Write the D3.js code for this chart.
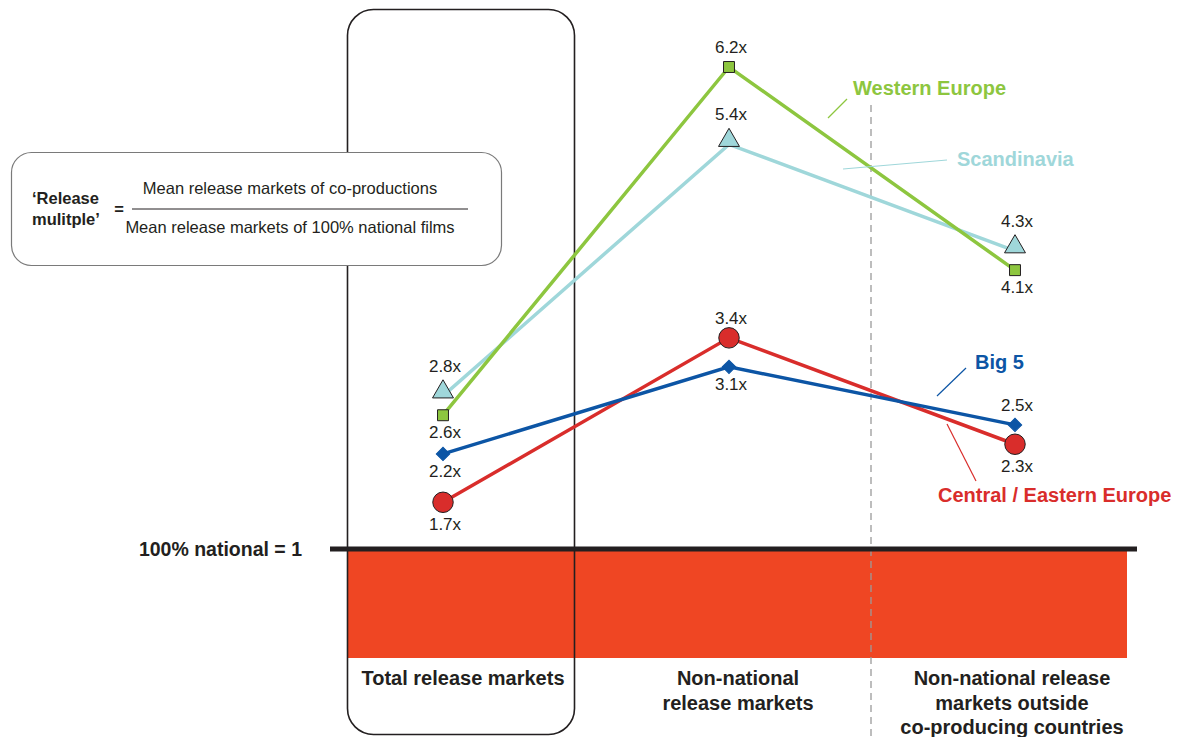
<!DOCTYPE html>
<html>
<head>
<meta charset="utf-8">
<script src="https://cdn.jsdelivr.net/npm/d3@7"></script>
<style>
  body { margin: 0; background: #fff; }
  text { font-family: "Liberation Sans", Arial, sans-serif; fill: #231f20; }
</style>
</head>
<body>
<div id="vis"></div>
<script>
var w = 1178;
var h = 737;

// categories along the x axis
var categories = ['total', 'nonNational', 'outside'];
var categoryLabels = [
  ['Total release markets'],
  ['Non-national', 'release markets'],
  ['Non-national release', 'markets outside', 'co-producing countries']
];

// release multiples per region
var westernEurope = [2.6, 6.2, 4.1];
var scandinavia   = [2.8, 5.4, 4.3];
var big5          = [2.2, 3.1, 2.5];
var centralEast   = [1.7, 3.4, 2.3];

var seriesNames = ['Western Europe', 'Scandinavia', 'Big 5', 'Central / Eastern Europe'];

var svg = d3.select('#vis')
  .append('svg')
    .attr('width', w)
    .attr('height', h);

var x = d3.scalePoint()
  .domain(categories)
  .range([443, 1015]);

var y = d3.scaleLinear()
  .domain([1, 6.2])
  .range([570, 67]);

var series = [
  { name: seriesNames[0], values: westernEurope, color: '#8dc63f', marker: 'square',
    sides: ['below', 'above', 'below'],
    label: { x: 853, y: 95 }, leader: [[828, 118], [847, 99]] },
  { name: seriesNames[1], values: scandinavia, color: '#9fd7da', marker: 'triangle',
    sides: ['above', 'above', 'above'],
    label: { x: 957, y: 166 }, leader: [[843, 169], [947, 160]] },
  { name: seriesNames[2], values: big5, color: '#0c55a5', marker: 'diamond',
    sides: ['below', 'below', 'above'],
    label: { x: 975, y: 369 }, leader: [[937, 396], [966, 368]] },
  { name: seriesNames[3], values: centralEast, color: '#d92d2b', marker: 'circle',
    sides: ['below', 'above', 'below'],
    label: { x: 938, y: 502 }, leader: [[947, 424], [976, 481]] }
];

// red band under the baseline
svg.append('rect')
  .attr('x', 347)
  .attr('y', 551)
  .attr('width', 780)
  .attr('height', 107)
  .style('fill', '#ef4623');

// dashed divider
svg.append('line')
  .attr('x1', 871).attr('x2', 871)
  .attr('y1', 105).attr('y2', 737)
  .style('stroke', '#9a9a9a')
  .style('stroke-width', 1.3)
  .style('stroke-dasharray', '7,5');

// tall rounded box round the first category
svg.append('rect')
  .attr('x', 347.5)
  .attr('y', 9.5)
  .attr('width', 227)
  .attr('height', 725)
  .attr('rx', 26)
  .style('fill', 'none')
  .style('stroke', '#231f20')
  .style('stroke-width', 1.6);

// baseline
svg.append('line')
  .attr('x1', 330).attr('x2', 1137)
  .attr('y1', 549).attr('y2', 549)
  .style('stroke', '#231f20')
  .style('stroke-width', 5);

svg.append('text')
  .attr('x', 302)
  .attr('y', 556)
  .attr('text-anchor', 'end')
  .style('font-size', '19.5px')
  .style('font-weight', 'bold')
  .text('100% national = 1');

// formula box
var fb = svg.append('g');
fb.append('rect')
  .attr('x', 11.5).attr('y', 152.5)
  .attr('width', 490).attr('height', 113)
  .attr('rx', 20)
  .style('fill', '#fff')
  .style('stroke', '#7a7a7a')
  .style('stroke-width', 1.2);
fb.append('text')
  .attr('x', 32).attr('y', 204)
  .style('font-size', '16.5px').style('font-weight', 'bold')
  .text('\u2018Release');
fb.append('text')
  .attr('x', 32).attr('y', 225)
  .style('font-size', '16.5px').style('font-weight', 'bold')
  .text('mulitple\u2019');
fb.append('text')
  .attr('x', 119).attr('y', 215)
  .attr('text-anchor', 'middle')
  .style('font-size', '16.5px').style('font-weight', 'bold')
  .text('=');
fb.append('line')
  .attr('x1', 132).attr('x2', 468)
  .attr('y1', 209).attr('y2', 209)
  .style('stroke', '#231f20')
  .style('stroke-width', 1);
fb.append('text')
  .attr('x', 290).attr('y', 194)
  .attr('text-anchor', 'middle')
  .style('font-size', '16.5px')
  .text('Mean release markets of co-productions');
fb.append('text')
  .attr('x', 290).attr('y', 233)
  .attr('text-anchor', 'middle')
  .style('font-size', '16.5px')
  .text('Mean release markets of 100% national films');

// category labels
var catX = [463, 738, 1012];
categoryLabels.forEach(function(lines, i) {
  var t = svg.append('text')
    .attr('x', catX[i])
    .attr('y', 685)
    .attr('text-anchor', 'middle')
    .style('font-size', '20px')
    .style('font-weight', 'bold');
  lines.forEach(function(l, j) {
    t.append('tspan')
      .attr('x', catX[i])
      .attr('dy', j === 0 ? 0 : 24.5)
      .text(l);
  });
});

var line = d3.line()
  .x(function(d, i) { return x(categories[i]); })
  .y(function(d) { return y(d); });

var symbols = {
  square: d3.symbol().type(d3.symbolSquare).size(120),
  triangle: d3.symbol().type(d3.symbolTriangle).size(190),
  diamond: d3.symbol().type(d3.symbolSquare).size(90),
  circle: d3.symbol().type(d3.symbolCircle).size(330)
};

// draw lines back to front: Scandinavia, Western Europe, Central, Big 5
[1, 0, 3, 2].forEach(function(k) {
  var s = series[k];
  svg.append('path')
    .datum(s.values)
    .attr('d', line)
    .style('fill', 'none')
    .style('stroke', s.color)
    .style('stroke-width', 3.5);
});

series.forEach(function(s) {
  var g = svg.append('g');

  g.selectAll('path.marker')
    .data(s.values)
    .enter()
    .append('path')
      .attr('class', 'marker')
      .attr('d', symbols[s.marker])
      .attr('transform', function(d, i) {
        var dy = s.marker === 'triangle' ? -4 : 0;
        var rot = s.marker === 'diamond' ? ' rotate(45)' : '';
        return 'translate(' + x(categories[i]) + ',' + (y(d) + dy) + ')' + rot;
      })
      .style('fill', s.color)
      .style('stroke', s.marker === 'diamond' ? s.color : '#231f20')
      .style('stroke-width', 1);

  g.selectAll('text.val')
    .data(s.values)
    .enter()
    .append('text')
      .attr('class', 'val')
      .attr('x', function(d, i) { return x(categories[i]) + 2; })
      .attr('y', function(d, i) {
        if (s.sides[i] === 'above') return y(d) - (s.marker === 'triangle' ? 24 : 14);
        return y(d) + (s.marker === 'circle' ? 28 : 23);
      })
      .attr('text-anchor', 'middle')
      .style('font-size', '17px')
      .text(function(d) { return d.toFixed(1) + 'x'; });

  // series label and leader line
  g.append('line')
    .attr('x1', s.leader[0][0]).attr('y1', s.leader[0][1])
    .attr('x2', s.leader[1][0]).attr('y2', s.leader[1][1])
    .style('stroke', s.color)
    .style('stroke-width', 1.2);
  g.append('text')
    .attr('x', s.label.x)
    .attr('y', s.label.y)
    .style('font-size', '20px')
    .style('font-weight', 'bold')
    .style('fill', s.color)
    .text(s.name);
});
</script>
</body>
</html>
